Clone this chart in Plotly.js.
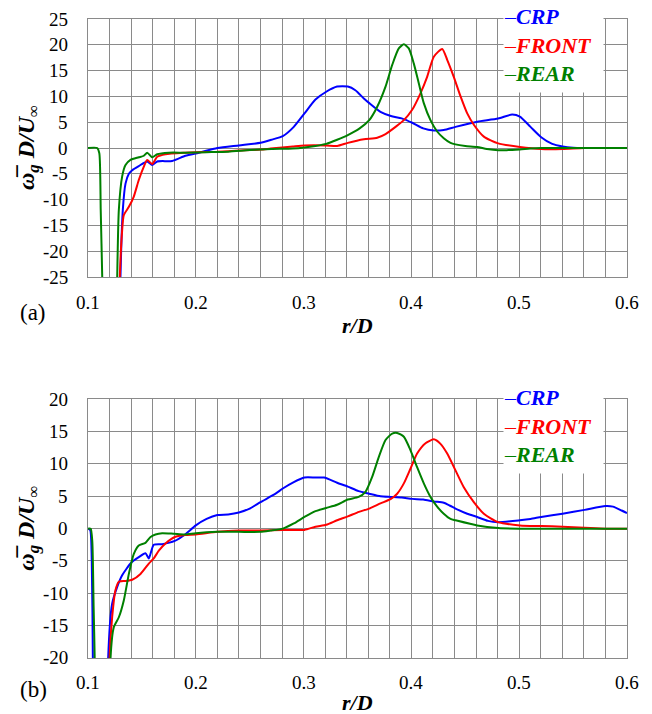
<!DOCTYPE html>
<html>
<head>
<meta charset="utf-8">
<script src="https://cdn.plot.ly/plotly-3.0.1.min.js"></script>
<style>
html,body{margin:0;padding:0;background:#fff}
#chart{width:652px;height:714px}
</style>
</head>
<body>
<div id="chart"></div>
<script>
// ---------- series names and colours ----------
const seriesNames = ['CRP', 'FRONT', 'REAR'];
const seriesColors = ['rgb(0,0,255)', 'rgb(255,0,0)', 'rgb(0,128,0)'];
const panelLabels = ['(a)', '(b)'];

// ---------- tick labels ----------
const xTicks = [0.1, 0.2, 0.3, 0.4, 0.5, 0.6];
const aYTicks = [-25, -20, -15, -10, -5, 0, 5, 10, 15, 20, 25];
const bYTicks = [-20, -15, -10, -5, 0, 5, 10, 15, 20];

// ---------- panel (a) ----------
const aCrpX = [0.129, 0.1301, 0.1323, 0.1348, 0.1379, 0.141, 0.1471, 0.1549, 0.1595, 0.1642, 0.1781, 0.1904, 0.2028, 0.22, 0.24, 0.26, 0.27, 0.2807, 0.2909, 0.3008, 0.311, 0.321, 0.3311, 0.341, 0.348, 0.3559, 0.3609, 0.3713, 0.381, 0.391, 0.4007, 0.411, 0.4208, 0.43, 0.4409, 0.461, 0.4805, 0.4935, 0.5006, 0.5105, 0.5204, 0.5306, 0.5402, 0.55, 0.5606, 0.6];
const aCrpY = [-40, -25, -12, -6.9, -5.0, -4.3, -3.5, -2.6, -3.3, -2.6, -2.5, -1.5, -0.9, 0, 0.5, 1.0, 1.6, 2.3, 4.1, 6.7, 9.4, 10.9, 11.9, 11.9, 11.2, 9.6, 8.7, 7.0, 6.2, 5.75, 4.9, 3.8, 3.4, 3.5, 4.1, 5.1, 5.7, 6.5, 6.1, 4.1, 2.1, 0.8, 0.3, 0.05, 0, 0];

const aFrontX = [0.128, 0.1295, 0.1317, 0.1332, 0.1379, 0.1425, 0.1471, 0.1518, 0.1549, 0.1595, 0.1642, 0.1719, 0.19, 0.20, 0.22, 0.24, 0.26, 0.2693, 0.28, 0.29, 0.3008, 0.321, 0.3311, 0.341, 0.3559, 0.3683, 0.376, 0.3853, 0.393, 0.4007, 0.4084, 0.4146, 0.4208, 0.4286, 0.4332, 0.4393, 0.4456, 0.4518, 0.4579, 0.4672, 0.4805, 0.5006, 0.5204, 0.5402, 0.5606, 0.6];
const aFrontY = [-40, -25, -15.9, -13, -11.4, -9.4, -6.2, -3.6, -2.3, -3.1, -1.7, -1.2, -0.9, -0.8, -0.7, -0.5, -0.3, -0.1, 0.1, 0.3, 0.5, 0.5, 0.4, 1.0, 1.7, 2.0, 2.7, 4.1, 5.4, 7.4, 10.6, 13.8, 17.7, 19.2, 17.1, 13.8, 10.0, 6.7, 4.5, 2.2, 0.9, 0.2, -0.2, -0.2, 0, 0];

const aRearX = [0.1, 0.1085, 0.1105, 0.1118, 0.1132, 0.1145, 0.126, 0.1271, 0.1286, 0.1317, 0.1348, 0.1394, 0.1471, 0.1518, 0.1549, 0.1595, 0.1642, 0.175, 0.19, 0.21, 0.23, 0.25, 0.27, 0.29, 0.3008, 0.311, 0.321, 0.3311, 0.341, 0.352, 0.3609, 0.3683, 0.376, 0.3822, 0.3883, 0.393, 0.3976, 0.4022, 0.4069, 0.4115, 0.4177, 0.4239, 0.43, 0.4363, 0.4409, 0.45, 0.461, 0.47, 0.4805, 0.49, 0.5006, 0.51, 0.5204, 0.6];
const aRearY = [0, 0, -1, -12, -25, -40, -40, -25, -12, -5.5, -3.3, -2.3, -1.8, -1.5, -0.9, -1.8, -1.2, -0.9, -0.9, -0.8, -0.7, -0.4, -0.2, -0.1, 0.1, 0.4, 0.8, 1.6, 2.5, 3.8, 5.4, 8.0, 11.9, 16.1, 19.3, 20.1, 19.3, 16.4, 12.5, 8.7, 5.4, 3.2, 1.9, 1.0, 0.7, 0.4, 0.2, -0.2, -0.45, -0.4, -0.3, -0.1, 0, 0];

// ---------- panel (b) ----------
const bCrpX = [0.1, 0.102, 0.1035, 0.1045, 0.1052, 0.118, 0.1187, 0.1224, 0.1271, 0.1317, 0.1404, 0.1471, 0.1533, 0.1564, 0.161, 0.1688, 0.1805, 0.19, 0.20, 0.21, 0.22, 0.23, 0.24, 0.25, 0.26, 0.274, 0.2807, 0.2909, 0.3008, 0.311, 0.319, 0.3311, 0.341, 0.351, 0.3609, 0.3713, 0.381, 0.391, 0.4007, 0.411, 0.4208, 0.43, 0.4363, 0.4409, 0.4518, 0.461, 0.471, 0.4805, 0.5006, 0.5105, 0.5204, 0.5402, 0.5606, 0.58, 0.587, 0.595, 0.6];
const bCrpY = [0, -0.2, -5, -20, -40, -40, -20, -11.6, -9.0, -7.2, -5.2, -4.4, -3.8, -4.6, -2.5, -2.4, -1.9, -0.9, 0.5, 1.5, 2.1, 2.2, 2.5, 3.1, 4.1, 5.4, 6.2, 7.2, 7.9, 7.9, 7.9, 7.1, 6.5, 5.8, 5.4, 5.0, 4.9, 4.8, 4.6, 4.5, 4.2, 4.0, 3.5, 3.1, 2.3, 1.8, 1.2, 1.0, 1.3, 1.5, 1.8, 2.3, 2.9, 3.5, 3.4, 2.8, 2.4];

const bFrontX = [0.119, 0.12, 0.1224, 0.1255, 0.1286, 0.1348, 0.141, 0.1487, 0.1564, 0.161, 0.1657, 0.1719, 0.1805, 0.19, 0.20, 0.22, 0.24, 0.26, 0.2807, 0.3008, 0.311, 0.321, 0.3311, 0.341, 0.3513, 0.3609, 0.3713, 0.381, 0.3868, 0.393, 0.3992, 0.4053, 0.4131, 0.4208, 0.427, 0.4332, 0.4409, 0.4486, 0.4579, 0.4672, 0.4805, 0.5006, 0.5204, 0.5402, 0.5606, 0.58, 0.6];
const bFrontY = [-40, -20, -13.7, -9.5, -8.2, -8.1, -7.9, -7.0, -5.4, -4.6, -3.4, -2.3, -1.3, -1.0, -0.9, -0.5, -0.3, -0.3, -0.2, -0.2, 0.3, 0.6, 1.3, 1.9, 2.6, 3.1, 3.9, 4.6, 5.4, 7.0, 9.3, 11.6, 13.2, 13.8, 13.1, 11.6, 9.0, 6.4, 4.1, 2.3, 1.0, 0.5, 0.4, 0.3, 0.15, 0, 0];

const bRearX = [0.1, 0.1025, 0.104, 0.1052, 0.1062, 0.107, 0.1205, 0.1209, 0.124, 0.1286, 0.1332, 0.1379, 0.1425, 0.1471, 0.1533, 0.158, 0.1626, 0.1688, 0.18, 0.19, 0.20, 0.22, 0.24, 0.26, 0.2693, 0.2807, 0.2909, 0.3008, 0.311, 0.321, 0.3311, 0.341, 0.351, 0.3574, 0.3636, 0.3698, 0.376, 0.3822, 0.3868, 0.393, 0.3992, 0.4053, 0.4115, 0.4177, 0.4239, 0.43, 0.4363, 0.4409, 0.461, 0.4805, 0.50, 0.6];
const bRearY = [0, 0, -2, -12, -20, -40, -40, -20, -15.2, -13.7, -11.1, -7.0, -3.9, -2.6, -2.2, -1.3, -0.9, -0.7, -0.8, -0.9, -0.7, -0.5, -0.5, -0.5, -0.3, 0, 0.8, 1.8, 2.7, 3.2, 3.7, 4.5, 4.9, 5.7, 8.0, 11.1, 13.7, 14.7, 14.8, 14.2, 12.1, 9.5, 7.0, 4.9, 3.4, 2.3, 1.5, 1.3, 0.5, 0.1, 0, 0];

// ---------- build ----------
const serif = 'Liberation Serif';
const panels = [
  {xs: [aCrpX, aFrontX, aRearX], ys: [aCrpY, aFrontY, aRearY], xa: 'x', ya: 'y', yTicks: aYTicks,
   domain: [0.5962, 1], xLabY: 0.5556, xTitleY: 0.5211, legendTop: 1.025, label: panelLabels[0], labelY: 0.54},
  {xs: [bCrpX, bFrontX, bRearX], ys: [bCrpY, bFrontY, bRearY], xa: 'x2', ya: 'y2', yTicks: bYTicks,
   domain: [0, 0.4049], xLabY: -0.0391, xTitleY: -0.0704, legendTop: 0.4049 + 15 / 639, label: panelLabels[1], labelY: -0.05}
];

const traces = [];
panels.forEach(p => {
  for (let i = 0; i < 3; i++) {
    traces.push({
      type: 'scatter', mode: 'lines', name: seriesNames[i],
      x: p.xs[i], y: p.ys[i], xaxis: p.xa, yaxis: p.ya,
      line: {color: seriesColors[i], width: 2, shape: 'spline', smoothing: 0.6},
      showlegend: false, hoverinfo: 'skip'
    });
  }
});

const gridCol = '#8a8a8a';
function xAxis(anchor) {
  return {
    anchor: anchor, domain: [0, 1], range: [0.1, 0.6],
    tickmode: 'array', tickvals: xTicks, showticklabels: false,
    showgrid: true, gridcolor: gridCol, gridwidth: 1,
    minor: {tickmode: 'linear', tick0: 0.1, dtick: 0.02, showgrid: true, gridcolor: gridCol, gridwidth: 1, ticks: ''},
    showline: true, mirror: true, linecolor: gridCol, linewidth: 1,
    zeroline: false, ticks: ''
  };
}
function yAxis(anchor, domain, ticks) {
  return {
    anchor: anchor, domain: domain, range: [ticks[0], ticks[ticks.length - 1]],
    tickmode: 'array', tickvals: ticks, showticklabels: false,
    showgrid: true, gridcolor: gridCol, gridwidth: 1,
    showline: true, mirror: true, linecolor: gridCol, linewidth: 1,
    zeroline: false, ticks: ''
  };
}

function legendText() {
  return seriesNames.map((n, i) =>
    '<span style="color:' + seriesColors[i] + '">\u2013<b><i>' + n + '</i></b></span>'
  ).join('<br>');
}

const tickFont = {family: serif, size: 19, color: '#000'};
const annotations = [];
panels.forEach(p => {
  // y tick labels
  p.yTicks.forEach(v => annotations.push({
    text: String(v), xref: 'paper', yref: p.ya, x: -0.0334, y: v, xanchor: 'right', yanchor: 'middle',
    showarrow: false, font: tickFont
  }));
  // x tick labels
  xTicks.forEach(v => annotations.push({
    text: v.toFixed(1), xref: p.xa, yref: 'paper', x: v, y: p.xLabY, xanchor: 'center', yanchor: 'middle',
    showarrow: false, font: tickFont
  }));
  // x title
  annotations.push({text: '<b><i>r/D</i></b>', xref: 'paper', yref: 'paper', x: 0.5, y: p.xTitleY,
    xanchor: 'center', yanchor: 'middle', showarrow: false, font: {family: serif, size: 22, color: '#000'}});
  // y title
  annotations.push({text: '<b><i>\u03C9\u0305</i></b><sub><b><i>g</i></b></sub><b><i> D/U</i></b><sub>\u221E</sub>',
    xref: 'paper', yref: 'paper', x: -0.1113, y: (p.domain[0] + p.domain[1]) / 2, textangle: -90,
    xanchor: 'center', yanchor: 'middle', showarrow: false, font: {family: serif, size: 24, color: '#000'}});
  // panel label
  annotations.push({text: p.label, xref: 'paper', yref: 'paper', x: -0.102, y: p.labelY, xanchor: 'center', yanchor: 'middle',
    showarrow: false, font: {family: serif, size: 23, color: '#000'}});
  // legend box
  annotations.push({text: legendText(), xref: 'paper', yref: 'paper', x: 0.77, y: p.legendTop, xanchor: 'left', yanchor: 'top',
    showarrow: false, align: 'left', bgcolor: '#fff', width: 99, height: 88, valign: 'top', borderpad: 0,
    font: {family: serif, size: 22, color: '#000'}});
});

const layout = {
  width: 652, height: 714,
  font: {family: serif, size: 19, color: '#000'},
  margin: {l: 88, r: 25, t: 19, b: 56},
  paper_bgcolor: '#fff', plot_bgcolor: '#fff',
  showlegend: false,
  xaxis: xAxis('y'),
  yaxis: yAxis('x', panels[0].domain, aYTicks),
  xaxis2: xAxis('y2'),
  yaxis2: yAxis('x2', panels[1].domain, bYTicks),
  annotations: annotations
};

Plotly.newPlot('chart', traces, layout, {staticPlot: true, displayModeBar: false});
</script>
</body>
</html>
